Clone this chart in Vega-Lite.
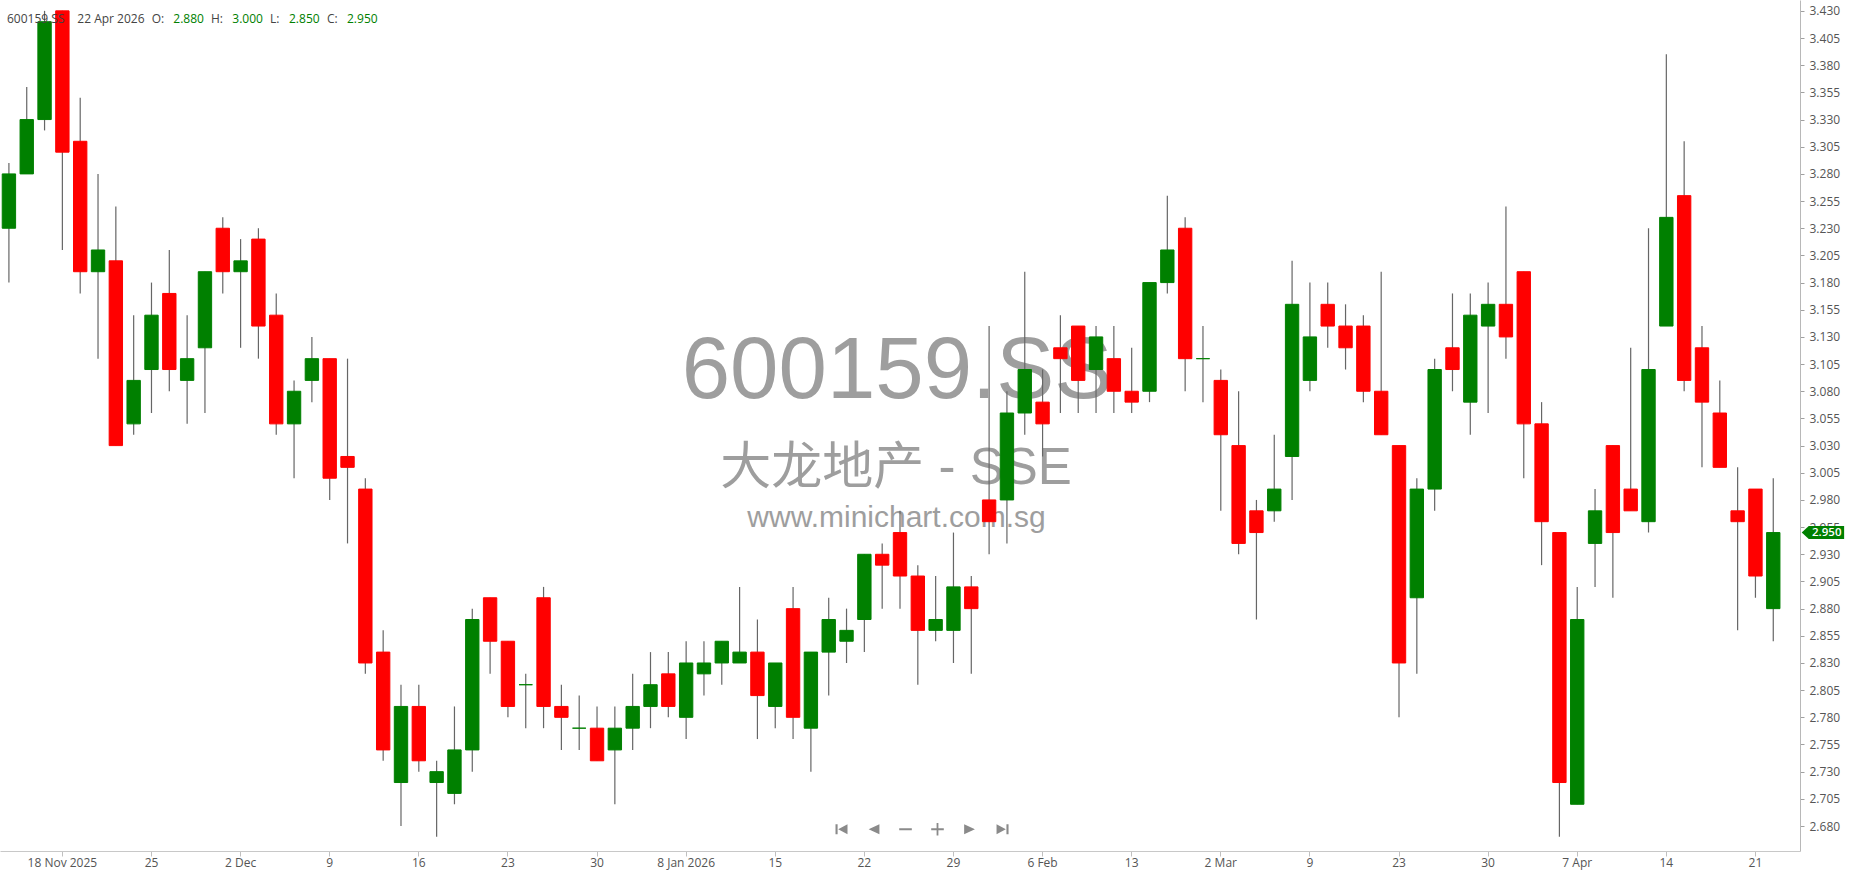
{
  "$schema": "https://vega.github.io/schema/vega-lite/v6.json",
  "width": 1800,
  "height": 851,
  "padding": {"left": 0, "top": 0, "right": 0, "bottom": 4},
  "autosize": {"type": "pad"},
  "background": "white",
  "config": {
    "view": {"stroke": null},
    "font": "Open Sans",
    "axis": {"labelFont": "Open Sans"}
  },
  "data": {"values": [
    {"d": "2025-11-13", "o": 3.23, "h": 3.29, "l": 3.18, "c": 3.28},
    {"d": "2025-11-14", "o": 3.28, "h": 3.36, "l": 3.28, "c": 3.33},
    {"d": "2025-11-17", "o": 3.33, "h": 3.43, "l": 3.32, "c": 3.42},
    {"d": "2025-11-18", "o": 3.43, "h": 3.43, "l": 3.21, "c": 3.30},
    {"d": "2025-11-19", "o": 3.31, "h": 3.35, "l": 3.17, "c": 3.19},
    {"d": "2025-11-20", "o": 3.19, "h": 3.28, "l": 3.11, "c": 3.21},
    {"d": "2025-11-21", "o": 3.20, "h": 3.25, "l": 3.03, "c": 3.03},
    {"d": "2025-11-24", "o": 3.05, "h": 3.15, "l": 3.04, "c": 3.09},
    {"d": "2025-11-25", "o": 3.10, "h": 3.18, "l": 3.06, "c": 3.15},
    {"d": "2025-11-26", "o": 3.17, "h": 3.21, "l": 3.08, "c": 3.10},
    {"d": "2025-11-27", "o": 3.09, "h": 3.15, "l": 3.05, "c": 3.11},
    {"d": "2025-11-28", "o": 3.12, "h": 3.19, "l": 3.06, "c": 3.19},
    {"d": "2025-12-01", "o": 3.23, "h": 3.24, "l": 3.17, "c": 3.19},
    {"d": "2025-12-02", "o": 3.19, "h": 3.22, "l": 3.12, "c": 3.20},
    {"d": "2025-12-03", "o": 3.22, "h": 3.23, "l": 3.11, "c": 3.14},
    {"d": "2025-12-04", "o": 3.15, "h": 3.17, "l": 3.04, "c": 3.05},
    {"d": "2025-12-05", "o": 3.05, "h": 3.09, "l": 3.00, "c": 3.08},
    {"d": "2025-12-08", "o": 3.09, "h": 3.13, "l": 3.07, "c": 3.11},
    {"d": "2025-12-09", "o": 3.11, "h": 3.11, "l": 2.98, "c": 3.00},
    {"d": "2025-12-10", "o": 3.02, "h": 3.11, "l": 2.94, "c": 3.01},
    {"d": "2025-12-11", "o": 2.99, "h": 3.00, "l": 2.82, "c": 2.83},
    {"d": "2025-12-12", "o": 2.84, "h": 2.86, "l": 2.74, "c": 2.75},
    {"d": "2025-12-15", "o": 2.72, "h": 2.81, "l": 2.68, "c": 2.79},
    {"d": "2025-12-16", "o": 2.79, "h": 2.81, "l": 2.73, "c": 2.74},
    {"d": "2025-12-17", "o": 2.72, "h": 2.74, "l": 2.67, "c": 2.73},
    {"d": "2025-12-18", "o": 2.71, "h": 2.79, "l": 2.70, "c": 2.75},
    {"d": "2025-12-19", "o": 2.75, "h": 2.88, "l": 2.73, "c": 2.87},
    {"d": "2025-12-22", "o": 2.89, "h": 2.89, "l": 2.82, "c": 2.85},
    {"d": "2025-12-23", "o": 2.85, "h": 2.85, "l": 2.78, "c": 2.79},
    {"d": "2025-12-24", "o": 2.81, "h": 2.82, "l": 2.77, "c": 2.81},
    {"d": "2025-12-25", "o": 2.89, "h": 2.90, "l": 2.77, "c": 2.79},
    {"d": "2025-12-26", "o": 2.79, "h": 2.81, "l": 2.75, "c": 2.78},
    {"d": "2025-12-29", "o": 2.77, "h": 2.80, "l": 2.75, "c": 2.77},
    {"d": "2025-12-30", "o": 2.77, "h": 2.79, "l": 2.74, "c": 2.74},
    {"d": "2025-12-31", "o": 2.75, "h": 2.79, "l": 2.70, "c": 2.77},
    {"d": "2026-01-05", "o": 2.77, "h": 2.82, "l": 2.75, "c": 2.79},
    {"d": "2026-01-06", "o": 2.79, "h": 2.84, "l": 2.77, "c": 2.81},
    {"d": "2026-01-07", "o": 2.82, "h": 2.84, "l": 2.78, "c": 2.79},
    {"d": "2026-01-08", "o": 2.78, "h": 2.85, "l": 2.76, "c": 2.83},
    {"d": "2026-01-09", "o": 2.82, "h": 2.85, "l": 2.80, "c": 2.83},
    {"d": "2026-01-12", "o": 2.83, "h": 2.85, "l": 2.81, "c": 2.85},
    {"d": "2026-01-13", "o": 2.83, "h": 2.90, "l": 2.83, "c": 2.84},
    {"d": "2026-01-14", "o": 2.84, "h": 2.87, "l": 2.76, "c": 2.80},
    {"d": "2026-01-15", "o": 2.79, "h": 2.83, "l": 2.77, "c": 2.83},
    {"d": "2026-01-16", "o": 2.88, "h": 2.90, "l": 2.76, "c": 2.78},
    {"d": "2026-01-19", "o": 2.77, "h": 2.84, "l": 2.73, "c": 2.84},
    {"d": "2026-01-20", "o": 2.84, "h": 2.89, "l": 2.80, "c": 2.87},
    {"d": "2026-01-21", "o": 2.85, "h": 2.88, "l": 2.83, "c": 2.86},
    {"d": "2026-01-22", "o": 2.87, "h": 2.93, "l": 2.84, "c": 2.93},
    {"d": "2026-01-23", "o": 2.93, "h": 2.94, "l": 2.88, "c": 2.92},
    {"d": "2026-01-26", "o": 2.95, "h": 2.97, "l": 2.88, "c": 2.91},
    {"d": "2026-01-27", "o": 2.91, "h": 2.92, "l": 2.81, "c": 2.86},
    {"d": "2026-01-28", "o": 2.86, "h": 2.91, "l": 2.85, "c": 2.87},
    {"d": "2026-01-29", "o": 2.86, "h": 2.95, "l": 2.83, "c": 2.90},
    {"d": "2026-02-02", "o": 2.90, "h": 2.91, "l": 2.82, "c": 2.88},
    {"d": "2026-02-03", "o": 2.98, "h": 3.14, "l": 2.93, "c": 2.96},
    {"d": "2026-02-04", "o": 2.98, "h": 3.08, "l": 2.94, "c": 3.06},
    {"d": "2026-02-05", "o": 3.06, "h": 3.19, "l": 3.04, "c": 3.10},
    {"d": "2026-02-06", "o": 3.07, "h": 3.10, "l": 3.02, "c": 3.05},
    {"d": "2026-02-09", "o": 3.12, "h": 3.15, "l": 3.06, "c": 3.11},
    {"d": "2026-02-10", "o": 3.14, "h": 3.14, "l": 3.06, "c": 3.09},
    {"d": "2026-02-11", "o": 3.10, "h": 3.14, "l": 3.06, "c": 3.13},
    {"d": "2026-02-12", "o": 3.11, "h": 3.14, "l": 3.06, "c": 3.08},
    {"d": "2026-02-13", "o": 3.08, "h": 3.12, "l": 3.06, "c": 3.07},
    {"d": "2026-02-24", "o": 3.08, "h": 3.18, "l": 3.07, "c": 3.18},
    {"d": "2026-02-25", "o": 3.18, "h": 3.26, "l": 3.17, "c": 3.21},
    {"d": "2026-02-26", "o": 3.23, "h": 3.24, "l": 3.08, "c": 3.11},
    {"d": "2026-02-27", "o": 3.11, "h": 3.14, "l": 3.07, "c": 3.11},
    {"d": "2026-03-02", "o": 3.09, "h": 3.10, "l": 2.97, "c": 3.04},
    {"d": "2026-03-03", "o": 3.03, "h": 3.08, "l": 2.93, "c": 2.94},
    {"d": "2026-03-04", "o": 2.97, "h": 2.98, "l": 2.87, "c": 2.95},
    {"d": "2026-03-05", "o": 2.97, "h": 3.04, "l": 2.96, "c": 2.99},
    {"d": "2026-03-06", "o": 3.02, "h": 3.20, "l": 2.98, "c": 3.16},
    {"d": "2026-03-09", "o": 3.09, "h": 3.18, "l": 3.08, "c": 3.13},
    {"d": "2026-03-10", "o": 3.16, "h": 3.18, "l": 3.12, "c": 3.14},
    {"d": "2026-03-11", "o": 3.14, "h": 3.16, "l": 3.10, "c": 3.12},
    {"d": "2026-03-12", "o": 3.14, "h": 3.15, "l": 3.07, "c": 3.08},
    {"d": "2026-03-13", "o": 3.08, "h": 3.19, "l": 3.04, "c": 3.04},
    {"d": "2026-03-23", "o": 3.03, "h": 3.03, "l": 2.78, "c": 2.83},
    {"d": "2026-03-24", "o": 2.89, "h": 3.00, "l": 2.82, "c": 2.99},
    {"d": "2026-03-25", "o": 2.99, "h": 3.11, "l": 2.97, "c": 3.10},
    {"d": "2026-03-26", "o": 3.12, "h": 3.17, "l": 3.08, "c": 3.10},
    {"d": "2026-03-27", "o": 3.07, "h": 3.17, "l": 3.04, "c": 3.15},
    {"d": "2026-03-30", "o": 3.14, "h": 3.18, "l": 3.06, "c": 3.16},
    {"d": "2026-03-31", "o": 3.16, "h": 3.25, "l": 3.11, "c": 3.13},
    {"d": "2026-04-01", "o": 3.19, "h": 3.19, "l": 3.00, "c": 3.05},
    {"d": "2026-04-02", "o": 3.05, "h": 3.07, "l": 2.92, "c": 2.96},
    {"d": "2026-04-03", "o": 2.95, "h": 2.95, "l": 2.67, "c": 2.72},
    {"d": "2026-04-07", "o": 2.70, "h": 2.90, "l": 2.70, "c": 2.87},
    {"d": "2026-04-08", "o": 2.94, "h": 2.99, "l": 2.90, "c": 2.97},
    {"d": "2026-04-09", "o": 3.03, "h": 3.03, "l": 2.89, "c": 2.95},
    {"d": "2026-04-10", "o": 2.99, "h": 3.12, "l": 2.97, "c": 2.97},
    {"d": "2026-04-13", "o": 2.96, "h": 3.23, "l": 2.95, "c": 3.10},
    {"d": "2026-04-14", "o": 3.14, "h": 3.39, "l": 3.14, "c": 3.24},
    {"d": "2026-04-15", "o": 3.26, "h": 3.31, "l": 3.08, "c": 3.09},
    {"d": "2026-04-16", "o": 3.12, "h": 3.14, "l": 3.01, "c": 3.07},
    {"d": "2026-04-17", "o": 3.06, "h": 3.09, "l": 3.01, "c": 3.01},
    {"d": "2026-04-20", "o": 2.97, "h": 3.01, "l": 2.86, "c": 2.96},
    {"d": "2026-04-21", "o": 2.99, "h": 2.99, "l": 2.89, "c": 2.91},
    {"d": "2026-04-22", "o": 2.88, "h": 3.00, "l": 2.85, "c": 2.95}
  ]},
  "layer": [
    {
      "transform": [{"filter": "datum.d == '2026-01-26'"}],
      "mark": {"type": "text", "text": "600159.SS", "font": "Liberation Sans", "fontSize": 87, "align": "center", "baseline": "alphabetic", "dx": -3, "fill": "#9e9e9e"},
      "encoding": {
        "x": {
          "field": "d", "type": "ordinal",
          "scale": {
            "type": "band",
            "paddingInner": 0.25,
            "paddingOuter": 0.125,
            "domain": ["2025-11-13","2025-11-14","2025-11-17","2025-11-18","2025-11-19","2025-11-20","2025-11-21","2025-11-24","2025-11-25","2025-11-26","2025-11-27","2025-11-28","2025-12-01","2025-12-02","2025-12-03","2025-12-04","2025-12-05","2025-12-08","2025-12-09","2025-12-10","2025-12-11","2025-12-12","2025-12-15","2025-12-16","2025-12-17","2025-12-18","2025-12-19","2025-12-22","2025-12-23","2025-12-24","2025-12-25","2025-12-26","2025-12-29","2025-12-30","2025-12-31","2026-01-05","2026-01-06","2026-01-07","2026-01-08","2026-01-09","2026-01-12","2026-01-13","2026-01-14","2026-01-15","2026-01-16","2026-01-19","2026-01-20","2026-01-21","2026-01-22","2026-01-23","2026-01-26","2026-01-27","2026-01-28","2026-01-29","2026-02-02","2026-02-03","2026-02-04","2026-02-05","2026-02-06","2026-02-09","2026-02-10","2026-02-11","2026-02-12","2026-02-13","2026-02-24","2026-02-25","2026-02-26","2026-02-27","2026-03-02","2026-03-03","2026-03-04","2026-03-05","2026-03-06","2026-03-09","2026-03-10","2026-03-11","2026-03-12","2026-03-13","2026-03-23","2026-03-24","2026-03-25","2026-03-26","2026-03-27","2026-03-30","2026-03-31","2026-04-01","2026-04-02","2026-04-03","2026-04-07","2026-04-08","2026-04-09","2026-04-10","2026-04-13","2026-04-14","2026-04-15","2026-04-16","2026-04-17","2026-04-20","2026-04-21","2026-04-22","2026-04-23"]
          },
          "axis": {
            "title": null,
            "orient": "bottom",
            "values": ["2025-11-18","2025-11-25","2025-12-02","2025-12-09","2025-12-16","2025-12-23","2025-12-30","2026-01-08","2026-01-15","2026-01-22","2026-01-29","2026-02-06","2026-02-13","2026-03-02","2026-03-09","2026-03-23","2026-03-30","2026-04-07","2026-04-14","2026-04-21"],
            "labelExpr": "datum.value == '2025-11-18' ? '18 Nov 2025' : datum.value == '2025-12-02' ? '2 Dec' : datum.value == '2026-01-08' ? '8 Jan 2026' : datum.value == '2026-02-06' ? '6 Feb' : datum.value == '2026-03-02' ? '2 Mar' : datum.value == '2026-04-07' ? '7 Apr' : '' + parseInt(slice(datum.value, 8, 10))",
            "labelAngle": 0,
            "labelFontSize": 12,
            "labelColor": "#555555",
            "labelPadding": 1,
            "labelOverlap": false,
            "tickColor": "#c0c0c0",
            "tickSize": 5,
            "domainColor": "#c8c8c8",
            "grid": false
          }
        },
        "y": {
          "datum": 3.0738, "type": "quantitative",
          "scale": {"domain": [2.657, 3.44], "nice": false, "zero": false},
          "axis": {
            "title": null,
            "orient": "right",
            "values": [2.68, 2.705, 2.73, 2.755, 2.78, 2.805, 2.83, 2.855, 2.88, 2.905, 2.93, 2.955, 2.98, 3.005, 3.03, 3.055, 3.08, 3.105, 3.13, 3.155, 3.18, 3.205, 3.23, 3.255, 3.28, 3.305, 3.33, 3.355, 3.38, 3.405, 3.43],
            "tickCount": 40,
            "format": ".3f",
            "labelFontSize": 12,
            "labelColor": "#555555",
            "labelPadding": 5,
            "labelOverlap": false,
            "labelFlush": false,
            "tickColor": "#a0a0a0",
            "tickSize": 4,
            "domainColor": "#b8b8b8",
            "grid": false
          }
        }
      }
    },
    {
      "transform": [{"filter": "datum.d == '2026-01-26'"}],
      "mark": {"type": "text", "text": "大龙地产 - SSE", "font": "Liberation Sans, Noto Sans CJK SC", "fontSize": 51, "align": "center", "baseline": "alphabetic", "dx": -4, "fill": "#9e9e9e"},
      "encoding": {
        "x": {"field": "d", "type": "ordinal"},
        "y": {"datum": 2.9947, "type": "quantitative"}
      }
    },
    {
      "transform": [{"filter": "datum.d == '2026-01-26'"}],
      "mark": {"type": "text", "text": "www.minichart.com.sg", "font": "Liberation Sans", "fontSize": 30, "align": "center", "baseline": "alphabetic", "dx": -3.5, "fill": "#9e9e9e"},
      "encoding": {
        "x": {"field": "d", "type": "ordinal"},
        "y": {"datum": 2.9547, "type": "quantitative"}
      }
    },
    {
      "mark": {"type": "rule", "color": "#666666", "strokeWidth": 1.2},
      "encoding": {
        "x": {"field": "d", "type": "ordinal"},
        "y": {"field": "h", "type": "quantitative"},
        "y2": {"field": "l"}
      }
    },
    {
      "mark": {"type": "bar", "strokeWidth": 1},
      "encoding": {
        "x": {"field": "d", "type": "ordinal"},
        "y": {"field": "o", "type": "quantitative"},
        "y2": {"field": "c"},
        "color": {"condition": {"test": "datum.c >= datum.o", "value": "#008000"}, "value": "#ff0000"},
        "stroke": {"condition": {"test": "datum.c >= datum.o", "value": "#008000"}, "value": "#ff0000"}
      }
    },
    {
      "transform": [{"filter": "datum.d == '2026-01-27'"}],
      "mark": {"type": "point", "filled": true, "size": 144, "strokeWidth": 0, "opacity": 1, "fill": "#8a8a8a",
        "shape": "M-13.72,-0.85L-13.37,-0.85L-13.37,0.85L-13.72,0.85ZM-13.27,0L-11.72,-0.85L-11.72,0.85ZM-8.2,0L-6.4,-0.85L-6.4,0.85ZM-3.1,-0.15L-1,-0.15L-1,0.15L-3.1,0.15ZM2.23,-0.15L4.33,-0.15L4.33,0.15L2.23,0.15ZM3.13,-1.05L3.43,-1.05L3.43,1.05L3.13,1.05ZM7.72,-0.85L9.52,0L7.72,0.85ZM13.12,-0.85L14.67,0L13.12,0.85ZM14.77,-0.85L15.12,-0.85L15.12,0.85L14.77,0.85Z"},
      "encoding": {
        "x": {"field": "d", "type": "ordinal"},
        "y": {"datum": 2.677, "type": "quantitative"}
      }
    },
    {
      "transform": [{"filter": "datum.d == '2026-04-22'"}],
      "mark": {"type": "point", "filled": true, "size": 169, "strokeWidth": 0, "opacity": 1, "fill": "#008000",
        "shape": "M4.38,0L5.46,-1L10.9,-1L10.9,1L5.46,1Z"},
      "encoding": {
        "x": {"field": "d", "type": "ordinal"},
        "y": {"field": "c", "type": "quantitative"}
      }
    },
    {
      "transform": [{"filter": "datum.d == '2026-04-22'"}],
      "mark": {"type": "text", "font": "Open Sans", "fontSize": 11.5, "fontWeight": 600, "fill": "#ffffff", "align": "center", "baseline": "middle", "dx": 53.5},
      "encoding": {
        "x": {"field": "d", "type": "ordinal"},
        "y": {"field": "c", "type": "quantitative"},
        "text": {"field": "c", "type": "quantitative", "format": ".3f"}
      }
    },
    {
      "transform": [{"filter": "datum.d == '2025-11-13'"}],
      "mark": {"type": "text", "text": "600159.SS", "fontSize": 12, "align": "left", "baseline": "alphabetic", "dx": -1.9, "fill": "#444444"},
      "encoding": {"x": {"field": "d", "type": "ordinal"}, "y": {"datum": 3.4188, "type": "quantitative"}}
    },
    {
      "transform": [{"filter": "datum.d == '2025-11-13'"}],
      "mark": {"type": "text", "text": "22 Apr 2026", "fontSize": 12, "align": "left", "baseline": "alphabetic", "dx": 68.4, "fill": "#444444"},
      "encoding": {"x": {"field": "d", "type": "ordinal"}, "y": {"datum": 3.4188, "type": "quantitative"}}
    },
    {
      "transform": [{"filter": "datum.d == '2025-11-13'"}],
      "mark": {"type": "text", "text": "O:", "fontSize": 12, "align": "left", "baseline": "alphabetic", "dx": 142.8, "fill": "#444444"},
      "encoding": {"x": {"field": "d", "type": "ordinal"}, "y": {"datum": 3.4188, "type": "quantitative"}}
    },
    {
      "transform": [{"filter": "datum.d == '2025-11-13'"}],
      "mark": {"type": "text", "text": "H:", "fontSize": 12, "align": "left", "baseline": "alphabetic", "dx": 202.1, "fill": "#444444"},
      "encoding": {"x": {"field": "d", "type": "ordinal"}, "y": {"datum": 3.4188, "type": "quantitative"}}
    },
    {
      "transform": [{"filter": "datum.d == '2025-11-13'"}],
      "mark": {"type": "text", "text": "L:", "fontSize": 12, "align": "left", "baseline": "alphabetic", "dx": 261.1, "fill": "#444444"},
      "encoding": {"x": {"field": "d", "type": "ordinal"}, "y": {"datum": 3.4188, "type": "quantitative"}}
    },
    {
      "transform": [{"filter": "datum.d == '2025-11-13'"}],
      "mark": {"type": "text", "text": "C:", "fontSize": 12, "align": "left", "baseline": "alphabetic", "dx": 318.1, "fill": "#444444"},
      "encoding": {"x": {"field": "d", "type": "ordinal"}, "y": {"datum": 3.4188, "type": "quantitative"}}
    },
    {
      "transform": [{"filter": "datum.d == '2026-04-22'"}],
      "mark": {"type": "text", "fontSize": 12, "align": "left", "baseline": "alphabetic", "dx": 164.4, "fill": "#008000"},
      "encoding": {"x": {"datum": "2025-11-13", "type": "ordinal"}, "y": {"datum": 3.4188, "type": "quantitative"}, "text": {"field": "o", "type": "quantitative", "format": ".3f"}}
    },
    {
      "transform": [{"filter": "datum.d == '2026-04-22'"}],
      "mark": {"type": "text", "fontSize": 12, "align": "left", "baseline": "alphabetic", "dx": 223.4, "fill": "#008000"},
      "encoding": {"x": {"datum": "2025-11-13", "type": "ordinal"}, "y": {"datum": 3.4188, "type": "quantitative"}, "text": {"field": "h", "type": "quantitative", "format": ".3f"}}
    },
    {
      "transform": [{"filter": "datum.d == '2026-04-22'"}],
      "mark": {"type": "text", "fontSize": 12, "align": "left", "baseline": "alphabetic", "dx": 280.1, "fill": "#008000"},
      "encoding": {"x": {"datum": "2025-11-13", "type": "ordinal"}, "y": {"datum": 3.4188, "type": "quantitative"}, "text": {"field": "l", "type": "quantitative", "format": ".3f"}}
    },
    {
      "transform": [{"filter": "datum.d == '2026-04-22'"}],
      "mark": {"type": "text", "fontSize": 12, "align": "left", "baseline": "alphabetic", "dx": 338.1, "fill": "#008000"},
      "encoding": {"x": {"datum": "2025-11-13", "type": "ordinal"}, "y": {"datum": 3.4188, "type": "quantitative"}, "text": {"field": "c", "type": "quantitative", "format": ".3f"}}
    }
  ]
}
